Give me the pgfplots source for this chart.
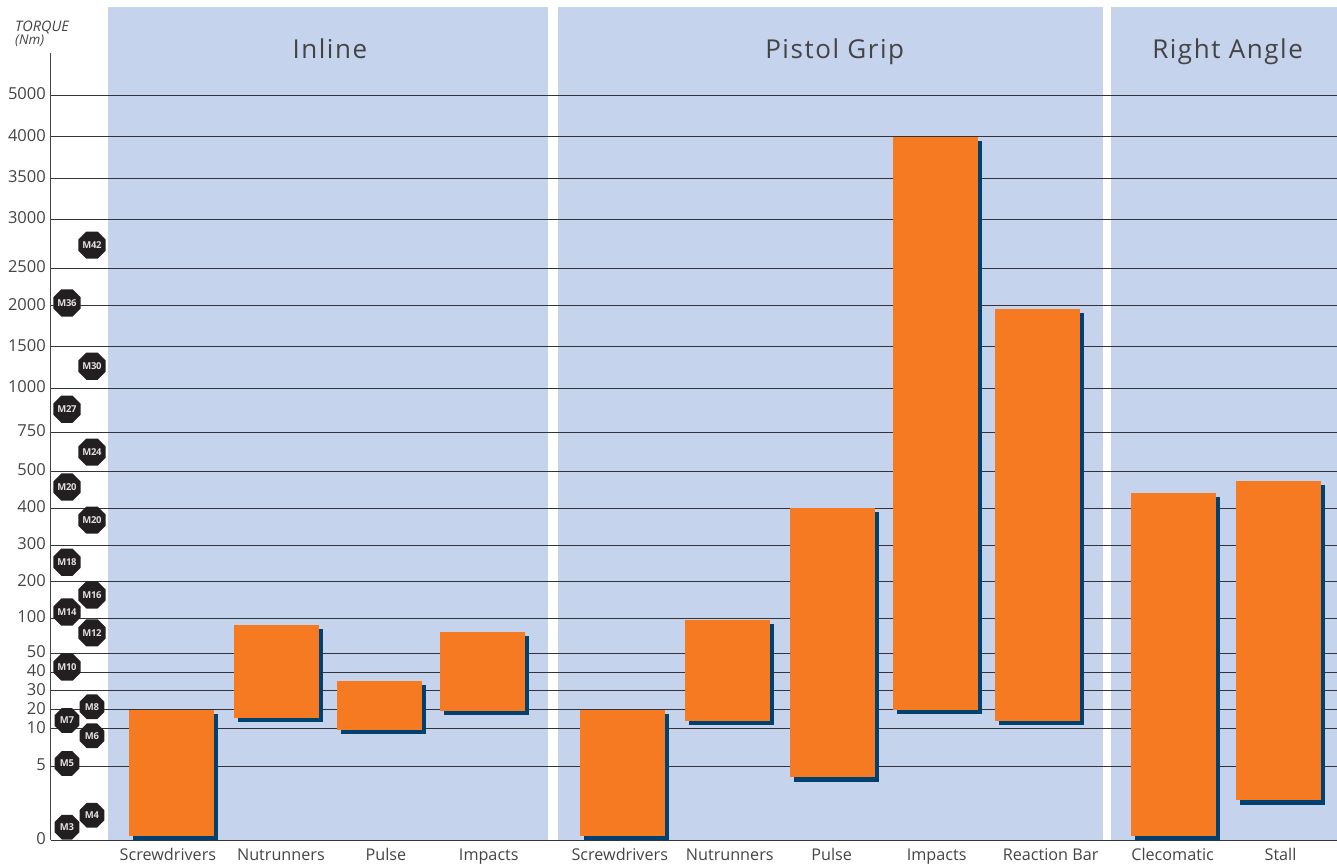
\documentclass[border=0pt]{standalone}
\usepackage{fontspec}
\setmainfont{Open Sans}
\newfontfamily\titlefont[LetterSpace=6]{Open Sans}
\newfontfamily\boltfont[LetterSpace=-3]{Open Sans}
\usepackage{pgfplots}
\pgfplotsset{compat=1.18}
\usetikzlibrary{shapes.geometric}
\usepackage{pgfplotstable}
\definecolor{panel}{HTML}{C5D3ED}
\definecolor{barorange}{HTML}{F57A22}
\definecolor{barshadow}{HTML}{00416F}
\definecolor{gridc}{HTML}{33343A}
\definecolor{labelc}{HTML}{444444}
\definecolor{boltc}{HTML}{231F20}
\newdimen\tqd
% piecewise scale of the torque axis: values v0..v1 sit between picture rows p0..p1
\newcommand\tqS[4]{\pgfmathparse{864-(#3+(\tqv-#1)/(#2-#1)*(#4-#3))}}
\newcommand\tqmap[1]{%
 \begingroup
 \pgfkeys{/pgf/fpu=true,/pgf/fpu/output format=fixed}%
 \pgfmathparse{#1}\edef\tqv{\pgfmathresult}\tqd=\tqv pt\relax
 \ifdim\tqd<5pt \tqS{0}{5}{840}{766.3}\else
 \ifdim\tqd<10pt \tqS{5}{10}{766.3}{728.7}\else
 \ifdim\tqd<20pt \tqS{10}{20}{728.7}{709.7}\else
 \ifdim\tqd<30pt \tqS{20}{30}{709.7}{690.7}\else
 \ifdim\tqd<40pt \tqS{30}{40}{690.7}{672}\else
 \ifdim\tqd<50pt \tqS{40}{50}{672}{653}\else
 \ifdim\tqd<100pt \tqS{50}{100}{653}{618}\else
 \ifdim\tqd<200pt \tqS{100}{200}{618}{581.7}\else
 \ifdim\tqd<300pt \tqS{200}{300}{581.7}{545.3}\else
 \ifdim\tqd<400pt \tqS{300}{400}{545.3}{508}\else
 \ifdim\tqd<500pt \tqS{400}{500}{508}{471}\else
 \ifdim\tqd<750pt \tqS{500}{750}{471}{432.3}\else
 \ifdim\tqd<1000pt \tqS{750}{1000}{432.3}{388.3}\else
 \ifdim\tqd<1500pt \tqS{1000}{1500}{388.3}{346.7}\else
 \ifdim\tqd<2000pt \tqS{1500}{2000}{346.7}{305.7}\else
 \ifdim\tqd<2500pt \tqS{2000}{2500}{305.7}{268}\else
 \ifdim\tqd<3000pt \tqS{2500}{3000}{268}{219}\else
 \ifdim\tqd<3500pt \tqS{3000}{3500}{219}{178}\else
 \ifdim\tqd<4000pt \tqS{3500}{4000}{178}{136.7}\else
 \tqS{4000}{5000}{136.7}{95}%
 \fi\fi\fi\fi\fi\fi\fi\fi\fi\fi\fi\fi\fi\fi\fi\fi\fi\fi\fi
 \xdef\tqresult{\pgfmathresult}%
 \endgroup
 \let\pgfmathresult\tqresult}
\newcommand\torquebar[3]{% left edge, low, high
 \pgfmathsetmacro\xr{#1+85}%
 \edef\tmp{\noexpand\addplot[fill=barshadow,draw=none,xshift=4.5pt,yshift=-4.2pt] coordinates {(#1,#2)(\xr,#2)(\xr,#3)(#1,#3)} --cycle;
 \noexpand\addplot[fill=barorange,draw=none] coordinates {(#1,#2)(\xr,#2)(\xr,#3)(#1,#3)} --cycle;}\tmp}
\pgfplotstableread{
x v label
92 2735 M42
67 2039 M36
92 1268 M30
67 882 M27
92 623 M24
67 457 M20
92 368 M20
67 254 M18
92 164 M16
67 117 M14
92 79 M12
67 42.7 M10
92 21.6 M8
67 14.4 M7
92 9.08 M6
67 5.4 M5
92 1.69 M4
67 0.88 M3
}\bolts
\begin{document}
\begin{tikzpicture}[x=1pt,y=1pt]
\path (0,0) rectangle (1337,864);
\fill[panel] (108,24) rectangle (548,857);
\fill[panel] (558,24) rectangle (1103,857);
\fill[panel] (1111,24) rectangle (1337,857);
\begin{axis}[
 at={(51pt,23.5pt)},anchor=south west,
 scale only axis,width=1286pt,height=787pt,
 xmin=51,xmax=1337,ymin=0,ymax=6000,
 y coord trafo/.code={\tqmap{#1}},
 axis x line=bottom,axis y line=left,
 axis line style={-,labelc,line width=1pt},
 x axis line style={gridc},
 clip=false,
 major tick length=0pt,
 ymajorgrids,
 grid style={gridc,line width=0.9pt},
 xtick={168,281,386,489,620,730,832,937,1051,1173,1281},
 xticklabels={Screwdrivers,Nutrunners,Pulse,Impacts,Screwdrivers,Nutrunners,Pulse,Impacts,Reaction Bar,Clecomatic,Stall},
 x tick label style={font=\fontsize{16.2}{16.2}\selectfont,text=labelc,anchor=base,yshift=-20pt,inner sep=0pt},
 ytick={0,5,10,20,30,40,50,100,200,300,400,500,750,1000,1500,2000,2500,3000,3500,4000,5000},
 yticklabels={0,5,10,20,30,40,50,100,200,300,400,500,750,1000,1500,2000,2500,3000,3500,4000,5000},
 y tick label style={font=\fontsize{16.5}{16.5}\selectfont,text=labelc,anchor=east,inner sep=0pt,xshift=-5pt,yshift=1.5pt},
]
\torquebar{129}{0.27}{20}
\torquebar{234}{15.6}{90.1}
\torquebar{337}{9.87}{35.3}
\torquebar{440}{19.4}{80.3}
\torquebar{580}{0.27}{20}
\torquebar{685}{14.4}{97.2}
\torquebar{790}{4.26}{400}
\torquebar{893}{20}{4000}
\torquebar{995}{14.4}{1963}
\torquebar{1131}{0.27}{440.5}
\torquebar{1236}{2.7}{473}
\addplot[only marks,mark=none,
 nodes near coords,point meta=explicit symbolic,
 every node near coord/.style={anchor=center,regular polygon,regular polygon sides=8,fill=boltc,text=white!88!black,inner sep=0pt,minimum size=26.8pt,font=\boltfont\bfseries\fontsize{9.5}{9.5}\selectfont}]
 table[x=x,y=v,meta=label]{\bolts};
\end{axis}
\node[font=\titlefont\fontsize{26}{26}\selectfont,text=labelc,anchor=base,inner sep=0pt] at (330,805.5) {Inline};
\node[font=\titlefont\fontsize{26}{26}\selectfont,text=labelc,anchor=base,inner sep=0pt] at (835,805.5) {Pistol Grip};
\node[font=\titlefont\fontsize{26}{26}\selectfont,text=labelc,anchor=base,inner sep=0pt] at (1228,805.5) {Right Angle};
\node[font=\itshape\fontsize{14.5}{14.5}\selectfont,text=labelc,anchor=base west,inner sep=0pt] at (15,832) {TORQUE};
\node[font=\itshape\fontsize{13.5}{13.5}\selectfont,text=labelc,anchor=base west,inner sep=0pt] at (15,819) {(Nm)};
\end{tikzpicture}
\end{document}
